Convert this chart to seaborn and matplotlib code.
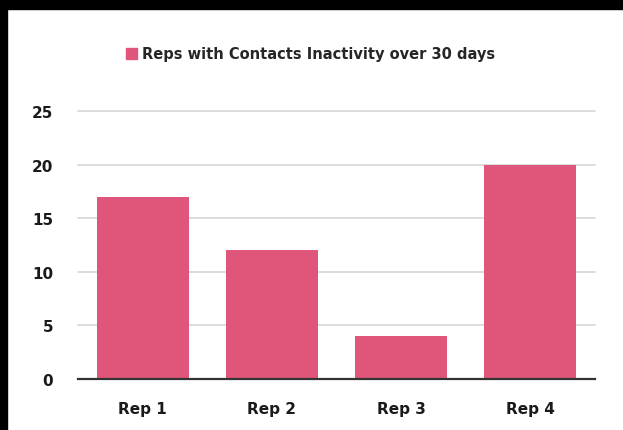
import matplotlib
matplotlib.use("Agg")
import matplotlib.pyplot as plt
import matplotlib.patches as mpatches
import seaborn as sns
import pandas as pd

reps = ["Rep 1", "Rep 2", "Rep 3", "Rep 4"]
inactive_counts = [17, 12, 4, 20]
y_ticks = [0, 5, 10, 15, 20, 25]
series_name = "Reps with Contacts Inactivity over 30 days"
bar_color = "#E0557A"

sns.set_theme(style="white")
plt.rcParams["font.family"] = ["DejaVu Sans"]

df = pd.DataFrame({"rep": reps, "count": inactive_counts})

fig = plt.figure(figsize=(6.23, 4.31), dpi=100)
fig.patch.set_facecolor("white")
ax = fig.add_axes([78 / 623, 51 / 431, 517 / 623, 268 / 431])

sns.barplot(data=df, x="rep", y="count", color=bar_color, saturation=1,
            width=0.71, linewidth=0, ax=ax, zorder=3)

ax.set_xlim(-0.5, 3.5)
ax.set_ylim(0, 25)
ax.set_yticks(y_ticks)
ax.set_yticklabels([str(v) for v in y_ticks], fontsize=11, fontweight="bold",
                   color="#1a1a1a")
ax.set_xticks(range(len(reps)))
ax.set_xticklabels(reps, fontsize=11, fontweight="bold", color="#1a1a1a")
ax.tick_params(axis="y", length=0, pad=18)
ax.tick_params(axis="x", length=0, pad=16)
ax.set_xlabel("")
ax.set_ylabel("")

ax.grid(axis="y", color="#d6d6d6", linewidth=1.2, zorder=0)
for gl in ax.get_ygridlines():
    gl.set_clip_on(False)
ax.grid(axis="x", visible=False)
for side in ["top", "right", "left"]:
    ax.spines[side].set_visible(False)
ax.spines["bottom"].set_color("#333333")
ax.spines["bottom"].set_linewidth(1.6)
ax.spines["bottom"].set_zorder(4)

handle = mpatches.Patch(color=bar_color, label=series_name)
fig.legend(handles=[handle], loc="center", bbox_to_anchor=(311 / 623, 1 - 55 / 431),
           frameon=False, handlelength=0.7, handleheight=0.7,
           handletextpad=0.4, prop={"weight": "bold", "size": 10.5})

# dark frame along the top and left edges
fig.patches.append(mpatches.Rectangle((0, 1 - 10 / 431), 1, 10 / 431,
                                      transform=fig.transFigure, color="black",
                                      zorder=10))
fig.patches.append(mpatches.Rectangle((0, 0), 7 / 623, 1,
                                      transform=fig.transFigure, color="black",
                                      zorder=10))

fig.savefig("out.png", dpi=100, facecolor="white")
